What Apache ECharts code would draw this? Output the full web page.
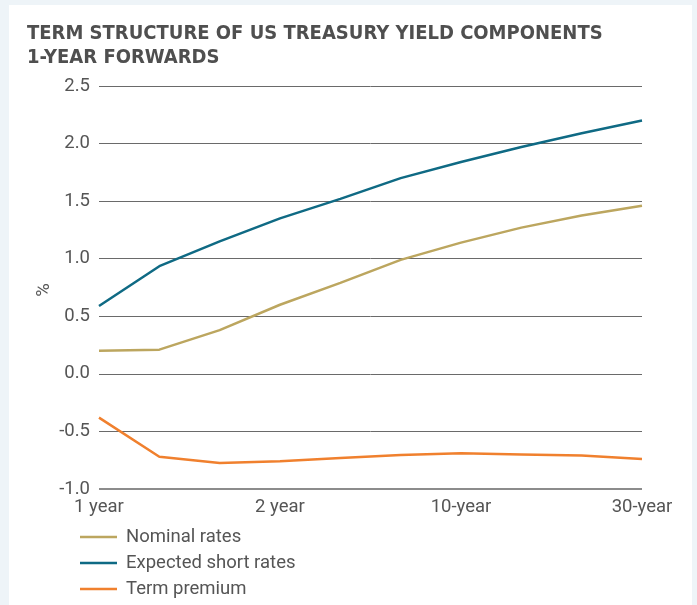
<!DOCTYPE html>
<html>
<head>
<meta charset="utf-8">
<script src="https://cdn.jsdelivr.net/npm/echarts@6/dist/echarts.min.js"></script>
<style>
  html, body { margin: 0; padding: 0; background: #eef4f8; width: 697px; height: 605px; overflow: hidden; }
  #panel { position: absolute; left: 9px; top: 5px; width: 683px; height: 600px; background: #ffffff; }
  #chart { position: absolute; left: 0; top: 0; width: 697px; height: 605px; }
</style>
</head>
<body>
<div id="panel"></div>
<div id="chart"></div>
<script>
const categories = ['1 year', '', '', '2 year', '', '', '10-year', '', '', '30-year'];
const nominalRates = [0.20, 0.21, 0.38, 0.60, 0.79, 0.99, 1.14, 1.27, 1.375, 1.46];
const expectedShortRates = [0.59, 0.935, 1.15, 1.35, 1.52, 1.70, 1.84, 1.97, 2.09, 2.20];
const termPremium = [-0.38, -0.72, -0.775, -0.76, -0.73, -0.705, -0.69, -0.70, -0.71, -0.74];
const yTicks = { min: -1.0, max: 2.5, interval: 0.5 };
const yAxisName = '%';

const chart = echarts.init(document.getElementById('chart'), null, { renderer: 'canvas' });
const font = 'Roboto, "Open Sans", sans-serif';
const fs = 18.5;
chart.setOption({
  backgroundColor: 'transparent',
  animation: false,
  title: {
    text: 'TERM STRUCTURE OF US TREASURY YIELD COMPONENTS\n1-YEAR FORWARDS',
    left: 22, top: 17,
    textStyle: { fontFamily: '"DejaVu Sans Condensed", "Liberation Sans", sans-serif', fontWeight: 'bold', fontSize: 20, color: '#4f4f4f', lineHeight: 24 }
  },
  graphic: [{
    type: 'text', x: 44, y: 290, rotation: Math.PI / 2,
    style: { text: yAxisName, fontFamily: font, fontSize: fs, fill: '#555', align: 'center', verticalAlign: 'middle' }
  }],
  grid: { left: 99, right: 55, top: 86, bottom: 116, containLabel: false },
  legend: {
    orient: 'vertical', left: 80, top: 527, padding: 0,
    icon: 'rect', itemWidth: 37, itemHeight: 2.5, itemGap: 6,
    textStyle: { fontFamily: font, fontSize: fs, color: '#555', lineHeight: 20, padding: [0, 0, 0, 4] },
    data: ['Nominal rates', 'Expected short rates', 'Term premium']
  },
  xAxis: {
    type: 'category', data: categories, boundaryGap: false,
    axisLine: { show: false }, axisTick: { show: false },
    axisLabel: { interval: 2, fontFamily: font, fontSize: fs, color: '#555', margin: 9 }
  },
  yAxis: {
    type: 'value', min: yTicks.min, max: yTicks.max, interval: yTicks.interval,
    axisLine: { show: false }, axisTick: { show: false },
    axisLabel: { fontFamily: font, fontSize: fs, color: '#555', margin: 9, formatter: v => v.toFixed(1) },
    splitLine: { lineStyle: { color: '#6a6a6a', width: 1 } }
  },
  series: [
    { name: 'Nominal rates', type: 'line', data: nominalRates, symbol: 'none', lineStyle: { color: '#bca65f', width: 2.5 }, itemStyle: { color: '#bca65f' } },
    { name: 'Expected short rates', type: 'line', data: expectedShortRates, symbol: 'none', lineStyle: { color: '#0f6a84', width: 2.5 }, itemStyle: { color: '#0f6a84' } },
    { name: 'Term premium', type: 'line', data: termPremium, symbol: 'none', lineStyle: { color: '#f0802e', width: 2.5 }, itemStyle: { color: '#f0802e' },
      markLine: { silent: true, symbol: 'none', label: { show: false }, lineStyle: { color: '#8c8c8c', width: 2, type: 'solid' }, data: [{ yAxis: yTicks.min }] } }
  ]
});
</script>
</body>
</html>
